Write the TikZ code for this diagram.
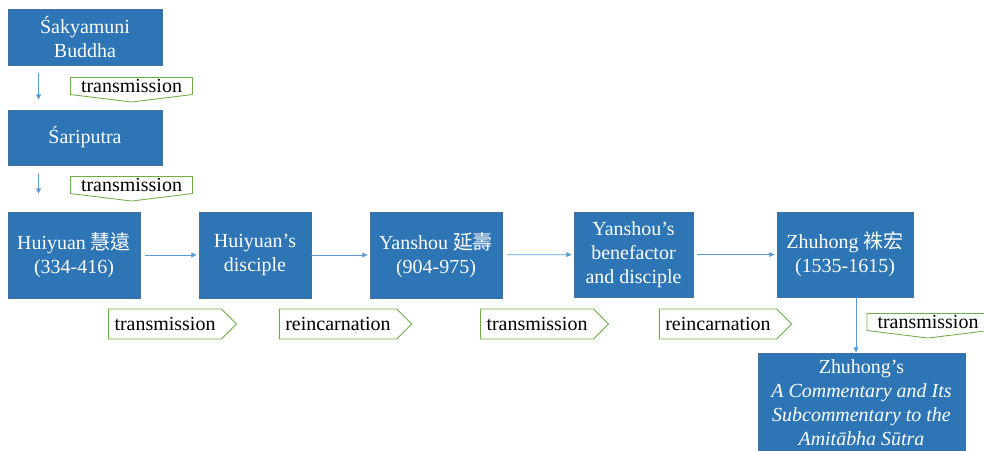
\documentclass[tikz,border=0pt]{standalone}
\usepackage{fontspec}
\setmainfont{Liberation Serif}
\newfontfamily\cjk{Noto Sans CJK TC}
\usetikzlibrary{shapes.symbols, arrows.meta}
\definecolor{boxblue}{RGB}{46,117,182}
\definecolor{boxline}{RGB}{65,113,156}
\definecolor{flowblue}{RGB}{91,155,213}
\definecolor{taggreen}{RGB}{112,173,71}

\begin{document}
\begin{tikzpicture}[x=0.025cm, y=-0.025cm, every node/.style={font=\fontsize{14.2}{17}\selectfont},
  person/.style={rectangle, draw=boxline, fill=boxblue, text=white, align=center, inner sep=0pt, line width=0.6pt},
  tagright/.style={signal, signal to=east, draw=taggreen, fill=white, line width=0.6pt, inner xsep=0.15cm, inner ysep=0pt, minimum height=0.75cm},
  tagdown/.style={signal, signal to=south, signal pointer angle=166, draw=taggreen, fill=white, line width=0.6pt, inner xsep=0.15cm, inner ysep=0pt, minimum height=0.6cm, minimum width=3.05cm},
  flow/.style={draw=flowblue, line width=0.5pt, -{Triangle[length=1.3mm, width=1.2mm]}}
]
\useasboundingbox (0,0) rectangle (984,451);
% Personen / Texte
\node[person, minimum width=3.85cm, minimum height=1.4cm] (sakya) at (85,37) {Śakyamuni\\Buddha};
\node[person, minimum width=3.85cm, minimum height=1.375cm] (sari) at (85,137.5) {Śariputra};
\node[person, minimum width=3.3cm, minimum height=2.15cm] (huiyuan) at (74,255) {Huiyuan {\cjk 慧遠}\\(334-416)};
\node[person, minimum width=2.8cm, minimum height=2.15cm] (hdisc) at (255,255) {Huiyuan’s\\disciple};
\node[person, minimum width=3.3cm, minimum height=2.15cm] (yanshou) at (436,255) {Yanshou {\cjk 延壽}\\(904-975)};
\node[person, minimum width=2.975cm, minimum height=2.125cm] (ybene) at (633.5,254.5) {Yanshou’s\\benefactor\\and disciple};
\node[person, minimum width=3.4cm, minimum height=2.125cm] (zhuhong) at (845,254.5) {Zhuhong {\cjk 袾宏}\\(1535-1615)};
\node[person, minimum width=5.175cm, minimum height=2.5cm] (comm) at (861.5,403) {Zhuhong’s\\\textit{A Commentary and Its}\\\textit{Subcommentary to the}\\\textit{Amitābha Sūtra}};
% Beschriftungen
\node[tagdown] (t1) at (131.5,86) {transmission};
\node[tagdown] (t2) at (131.5,185) {transmission};
\node[tagright] (t3) at (165,324) {transmission};
\node[tagright] (t4) at (338,324) {reincarnation};
\node[tagright] (t5) at (537,324) {transmission};
\node[tagright] (t6) at (718,324) {reincarnation};
\node[tagdown] (t7) at (928,322) {transmission};
% Pfeile
\draw[flow, shorten <=0.2cm, shorten >=0.25cm] ([xshift=0.775cm]sakya.south west) -- ([xshift=0.775cm]sari.north west);
\draw[flow, shorten <=0.2cm, shorten >=0.45cm] ([xshift=0.775cm]sari.south west) -- ([xshift=0.775cm]huiyuan.north west);
\draw[flow, shorten <=0.125cm, shorten >=0.05cm] (huiyuan) -- (hdisc);
\draw[flow, shorten >=0.05cm] (hdisc) -- (yanshou);
\draw[flow, shorten <=0.125cm, shorten >=0.05cm] (yanshou) -- (ybene);
\draw[flow, shorten <=0.1cm, shorten >=0.05cm] (ybene) -- (zhuhong);
\draw[flow] ([xshift=0.275cm]zhuhong.south) -- ([xshift=0.275cm]zhuhong.south |- comm.north);
\end{tikzpicture}
\end{document}
